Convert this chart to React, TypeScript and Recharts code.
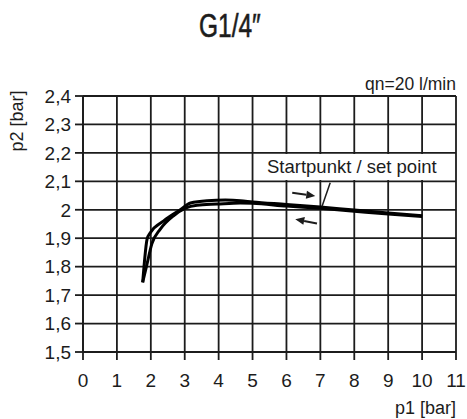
import React from 'react';
import { LineChart, Line, XAxis, YAxis, CartesianGrid, ReferenceLine } from 'recharts';

const p1Ticks = [0, 1, 2, 3, 4, 5, 6, 7, 8, 9, 10, 11];
const p2Ticks = [1.5, 1.6, 1.7, 1.8, 1.9, 2.0, 2.1, 2.2, 2.3, 2.4];

// outer branch of the hysteresis loop
const upperP1 = [1.76, 1.81, 1.89, 1.99, 2.38, 2.87, 3.17, 3.66, 4.2, 4.64, 5, 6, 7, 8, 9, 10];
const upperP2 = [1.745, 1.815, 1.897, 1.92, 1.961, 2.0, 2.024, 2.032, 2.034, 2.032, 2.027, 2.019, 2.01, 1.999, 1.989, 1.979];

// inner branch
const lowerP1 = [1.76, 1.87, 2.03, 2.28, 2.67, 3.02, 3.36, 3.95, 4.64, 5, 6, 7, 8, 9, 10];
const lowerP2 = [1.745, 1.8, 1.88, 1.932, 1.979, 2.006, 2.016, 2.02, 2.024, 2.023, 2.013, 2.005, 1.995, 1.985, 1.976];

const upperData = upperP1.map((p1, i) => ({ p1, p2: upperP2[i] }));
const lowerData = lowerP1.map((p1, i) => ({ p1, p2: lowerP2[i] }));

const FONT = '"Liberation Sans", Arial, sans-serif';
const INK = '#1c1c1c';

const fmtP2 = (v: number) => (Number.isInteger(v) ? String(v) : v.toFixed(1).replace('.', ','));

const ArrowShape = (props: any) => {
  const { x1, y1, x2, y2 } = props;
  const a = Math.atan2(y2 - y1, x2 - x1);
  const len = 9;
  const w = 4;
  const bx = x2 - len * Math.cos(a);
  const by = y2 - len * Math.sin(a);
  const px = -Math.sin(a) * w;
  const py = Math.cos(a) * w;
  return (
    <g>
      <line x1={x1} y1={y1} x2={bx} y2={by} stroke={INK} strokeWidth={2} />
      <polygon points={`${x2},${y2} ${bx + px},${by + py} ${bx - px},${by - py}`} fill={INK} />
    </g>
  );
};

export default function App() {
  return (
    <div style={{ position: 'absolute', left: 0, top: 0, width: 467, height: 419, background: '#fff', fontFamily: FONT, color: INK }}>
      <LineChart
        width={467}
        height={419}
        margin={{ top: 96, right: 11, bottom: 0, left: 0 }}
        style={{ fontFamily: FONT }}
      >
        <CartesianGrid stroke={INK} strokeWidth={1.8} />
        <XAxis
          type="number"
          dataKey="p1"
          domain={[0, 11]}
          ticks={p1Ticks}
          interval={0}
          height={67}
          tickSize={8}
          tickMargin={14}
          axisLine={{ stroke: INK, strokeWidth: 1.8 }}
          tickLine={{ stroke: INK, strokeWidth: 1.8 }}
          tick={{ fill: INK, fontSize: 19 }}
          allowDataOverflow
        />
        <YAxis
          type="number"
          dataKey="p2"
          domain={[1.5, 2.4]}
          ticks={p2Ticks}
          interval={0}
          width={83}
          tickSize={8}
          tickMargin={4}
          tickFormatter={fmtP2}
          axisLine={{ stroke: INK, strokeWidth: 1.8 }}
          tickLine={{ stroke: INK, strokeWidth: 1.8 }}
          tick={{ fill: INK, fontSize: 19 }}
          allowDataOverflow
        />
        <Line data={upperData} dataKey="p2" type="monotone" stroke="#000" strokeWidth={3} dot={false} isAnimationActive={false} />
        <Line data={lowerData} dataKey="p2" type="monotone" stroke="#000" strokeWidth={3} dot={false} isAnimationActive={false} />
        <ReferenceLine segment={[{ x: 6.17, y: 2.06 }, { x: 6.85, y: 2.048 }]} shape={ArrowShape} />
        <ReferenceLine segment={[{ x: 6.9, y: 1.952 }, { x: 6.26, y: 1.967 }]} shape={ArrowShape} />
        <ReferenceLine segment={[{ x: 7.29, y: 2.095 }, { x: 7.05, y: 2.012 }]} stroke={INK} strokeWidth={1.5} />
      </LineChart>

      <div style={{ position: 'absolute', left: 0, width: 459, top: 6, textAlign: 'center', fontSize: 34, lineHeight: '38px', fontWeight: 500, WebkitTextStroke: '0.6px #1c1c1c' }}>
        <span style={{ display: 'inline-block', transform: 'scaleX(0.72)' }}>G1/4″</span>
      </div>
      <div style={{ position: 'absolute', right: 11, top: 74, fontSize: 17.5, lineHeight: '20px', whiteSpace: 'nowrap' }}>qn=20 l/min</div>
      <div
        style={{
          position: 'absolute',
          left: 264,
          top: 154,
          padding: '0 3px',
          background: '#fff',
          fontSize: 18.5,
          lineHeight: '26px',
          whiteSpace: 'nowrap',
        }}
      >
        Startpunkt / set point
      </div>
      <div style={{ position: 'absolute', right: 11, top: 398, fontSize: 18, lineHeight: '20px', whiteSpace: 'nowrap' }}>p1 [bar]</div>
      <div
        style={{
          position: 'absolute',
          left: 6,
          top: 90,
          width: 22,
          height: 62,
          fontSize: 18,
          lineHeight: '22px',
        }}
      >
        <span
          style={{
            position: 'absolute',
            left: 11,
            top: 31,
            whiteSpace: 'nowrap',
            transform: 'translate(-50%, -50%) rotate(-90deg)',
          }}
        >
          p2 [bar]
        </span>
      </div>
    </div>
  );
}
